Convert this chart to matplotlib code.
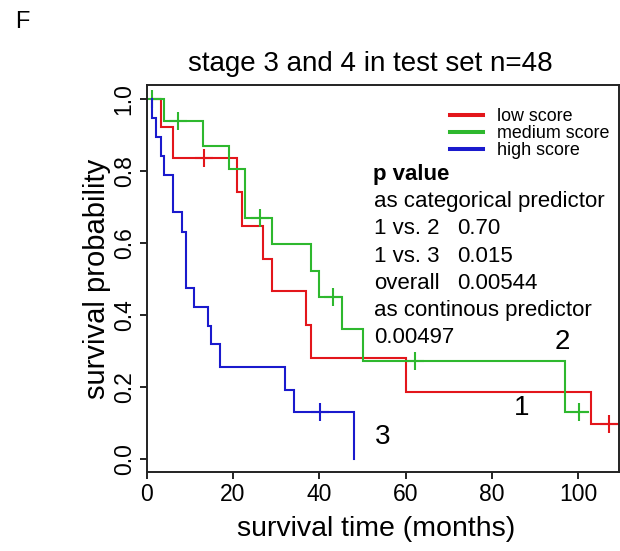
import numpy as np
import matplotlib
matplotlib.use("Agg")
import matplotlib.pyplot as plt
from matplotlib.lines import Line2D

plt.rcParams['font.family'] = ['Liberation Sans', 'DejaVu Sans']

# ---------------- data ----------------
panel_label = "F"
title = "stage 3 and 4 in test set n=48"
x_label = "survival time (months)"
y_label = "survival probability"
x_ticks = [0, 20, 40, 60, 80, 100]
y_ticks = [0.0, 0.2, 0.4, 0.6, 0.8, 1.0]
y_tick_labels = ["0.0", "0.2", "0.4", "0.6", "0.8", "1.0"]

series_names = ["low score", "medium score", "high score"]
series_colors = ["#e3161b", "#2eb82e", "#1a1acd"]
curve_numbers = ["1", "2", "3"]

start_time = 1.2

low_event_times = [3.2, 6.0, 21.0, 22.0, 26.9, 29.0, 36.9, 38.0, 60.1, 103.0]
low_surv = [0.921, 0.835, 0.742, 0.647, 0.557, 0.467, 0.372, 0.281, 0.187, 0.097]
low_censor_times = [13.3, 107.1]
low_end_time = 110.0

medium_event_times = [4.0, 13.0, 19.1, 22.8, 29.0, 38.0, 40.0, 45.2, 50.1, 97.0]
medium_surv = [0.939, 0.870, 0.805, 0.670, 0.597, 0.523, 0.451, 0.360, 0.272, 0.131]
medium_censor_times = [1.2, 7.3, 26.3, 43.2, 62.1, 100.3]
medium_end_time = 102.3

high_event_times = [1.2, 2.1, 3.2, 4.0, 6.1, 8.1, 9.0, 10.9, 14.1, 14.9, 17.0,
                    32.1, 34.1, 48.1]
high_surv = [0.948, 0.895, 0.842, 0.790, 0.685, 0.632, 0.476, 0.423, 0.370,
             0.319, 0.256, 0.192, 0.130, 0.0]
high_censor_times = [40.2]
high_end_time = 48.1

pvalue_header = "p value"
pvalue_labels = ["as categorical predictor", "1 vs. 2", "1 vs. 3", "overall",
                 "as continous predictor", "0.00497"]
pvalue_values = ["", "0.70", "0.015", "0.00544", "", ""]

# ---------------- layout ----------------
W, H = 620, 551
fig = plt.figure(figsize=(W / 100, H / 100), dpi=100)
ax_l, ax_r, ax_t, ax_b = 146.8, 618.5, 85.0, 472.0
ax = fig.add_axes([ax_l / W, 1 - ax_b / H, (ax_r - ax_l) / W, (ax_b - ax_t) / H])


def axx(px):
    return (px - ax_l) / (ax_r - ax_l)


def axy(py):
    return (ax_b - py) / (ax_b - ax_t)


ax.set_xlim(0, 109.4)
ax.set_ylim(-0.036, 1.039)

series = [
    (low_event_times, low_surv, low_censor_times, low_end_time),
    (medium_event_times, medium_surv, medium_censor_times, medium_end_time),
    (high_event_times, high_surv, high_censor_times, high_end_time),
]

for (ev, sv, cs, end), col in zip(series, series_colors):
    xs = [start_time] + list(ev) + [end]
    ys = [1.0] + list(sv) + [sv[-1]]
    ax.step(xs, ys, where="post", color=col, lw=1.5, solid_joinstyle="miter")
    ev_arr = np.asarray(ev)
    s_arr = np.concatenate([[1.0], sv])
    cy = s_arr[np.searchsorted(ev_arr, cs, side="right")]
    ax.plot(cs, cy, ls="none", marker="+", ms=13, mew=1.5, color=col)

# curve numbers
curve_num_x = [87.0, 96.3, 54.8]
curve_num_y = [0.143, 0.325, 0.061]
for t, xx, yy in zip(curve_numbers, curve_num_x, curve_num_y):
    ax.text(xx, yy, t, fontsize=20, ha="center", va="center")

# axes styling
for s in ax.spines.values():
    s.set_linewidth(1.4)
    s.set_color("#222222")
ax.set_xticks(x_ticks)
ax.set_yticks(y_ticks)
ax.set_yticklabels(y_tick_labels)
ax.tick_params(axis="both", length=5, width=1.4, labelsize=16.5, color="#222222")
ax.tick_params(axis="x", pad=3)
ax.tick_params(axis="y", pad=3, labelrotation=90)
for lab in ax.get_yticklabels():
    lab.set_va("center")

ax.set_xlabel(x_label, fontsize=20.5, va="baseline")
ax.xaxis.set_label_coords(axx(376), axy(536))
ax.set_ylabel(y_label, fontsize=21, va="center")
ax.yaxis.set_label_coords(axx(97), 0.5)

# title and panel letter
fig.text(370 / W, 1 - 71 / H, title, fontsize=20, ha="center", va="baseline")
fig.text(15 / W, 1 - 28 / H, panel_label, fontsize=17, ha="left", va="baseline")

# legend
handles = [Line2D([], [], color=c, lw=2.9) for c in series_colors]
ax.legend(handles, series_names, loc="center left",
          bbox_to_anchor=(axx(450), axy(133.5)), frameon=False,
          fontsize=12.9, handlelength=1.84, handletextpad=0.78,
          labelspacing=0.0, borderpad=0, borderaxespad=0)

# p value text block
base0, step = 180.0, 27.2
ax.text(axx(373), axy(base0), pvalue_header, transform=ax.transAxes,
        fontsize=16, fontweight="bold", va="baseline", ha="left")
for i, (lab, val) in enumerate(zip(pvalue_labels, pvalue_values)):
    yb = axy(base0 + step * (i + 1))
    ax.text(axx(374), yb, lab, transform=ax.transAxes, fontsize=16,
            va="baseline", ha="left")
    if val:
        ax.text(axx(457), yb, val, transform=ax.transAxes, fontsize=16,
                va="baseline", ha="left")

fig.savefig("out.png", dpi=100)
